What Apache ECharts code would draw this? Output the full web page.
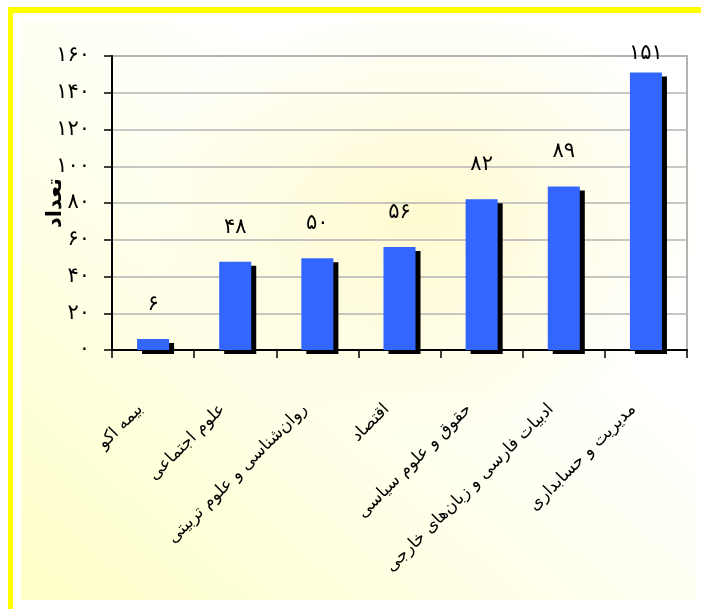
<!DOCTYPE html>
<html><head><meta charset="utf-8">
<script src="https://cdn.jsdelivr.net/npm/echarts@6/dist/echarts.min.js"></script>
<style>
html,body{margin:0;padding:0;background:#fff;width:701px;height:609px;overflow:hidden}
#frame{position:absolute;left:8px;top:7px;width:700px;height:610px;border-top:6px solid #ffff00;border-left:5px solid #ffff00;box-sizing:border-box}
#fill{position:absolute;left:21px;top:20px;width:676px;height:580px;
background:
 radial-gradient(ellipse 42% 38% at 60% 33%, rgba(255,247,170,0.55) 0%, rgba(255,255,255,0) 100%),
 linear-gradient(to top right, #ffffc8 0%, #fffff0 45%, #ffffff 68%);}
#chart{position:absolute;left:0;top:0;width:701px;height:609px}
</style></head>
<body>
<div id="frame"></div>
<div id="fill"></div>
<div id="chart"></div>
<script>
const categories = ['بیمه اکو','علوم اجتماعی','روان\u200cشناسی و علوم تربیتی','اقتصاد','حقوق و علوم سیاسی','ادبیات فارسی و زبان\u200cهای خارجی','مدیریت و حسابداری'];
const values = [6, 48, 50, 56, 82, 89, 151];
const valueLabels = ['۶','۴۸','۵۰','۵۶','۸۲','۸۹','۱۵۱'];
const yTickLabels = ['۰','۲۰','۴۰','۶۰','۸۰','۱۰۰','۱۲۰','۱۴۰','۱۶۰'];
const yAxisName = 'تعداد';

const FONT = 'DejaVu Sans';
const chart = echarts.init(document.getElementById('chart'), null, {renderer:'canvas'});
chart.setOption({
  backgroundColor: 'transparent',
  animation: false,
  textStyle: {fontFamily: FONT},
  grid: {left:112, right:14, top:56, bottom:259, show:true, borderColor:'#999999', borderWidth:1.5, backgroundColor:'transparent'},
  xAxis: {
    type:'category', data: categories,
    axisLine:{show:true, lineStyle:{color:'#000', width:2}},
    axisTick:{show:true, length:8, lineStyle:{color:'#000', width:1.5}},
    axisLabel:{rotate:45, margin:44, interval:0, fontSize:17, color:'#000', fontFamily:FONT,
      padding:[0,18,0,0]},
    splitLine:{show:false}
  },
  yAxis: {
    type:'value', min:0, max:160, interval:20,
    name: yAxisName, nameLocation:'middle', nameRotate:90, nameGap:46, nameMoveOverlap:false,
    nameTextStyle:{fontSize:21, fontWeight:'bold', color:'#000', fontFamily:FONT},
    axisLine:{show:true, lineStyle:{color:'#000', width:2}},
    axisTick:{show:true, length:8, lineStyle:{color:'#000', width:1.5}},
    axisLabel:{margin:22, fontSize:21, color:'#000', fontFamily:FONT,
      formatter: v => yTickLabels[Math.round(v/20)]},
    splitLine:{show:true, lineStyle:{color:'#b4b4b4', width:1.5}}
  },
  series: [{
    type:'bar', barWidth:'39%',
    data: values.map((v,i) => ({value:v, label:{distance: v > 140 ? 8 : 24}})),
    itemStyle:{color:'#3366ff', borderWidth:0,
      shadowColor:'#000', shadowBlur:0, shadowOffsetX:5, shadowOffsetY:4},
    label:{show:true, position:'top', fontSize:21, color:'#000', fontFamily:FONT,
      formatter: p => valueLabels[p.dataIndex]}
  }]
});
</script>
</body></html>
